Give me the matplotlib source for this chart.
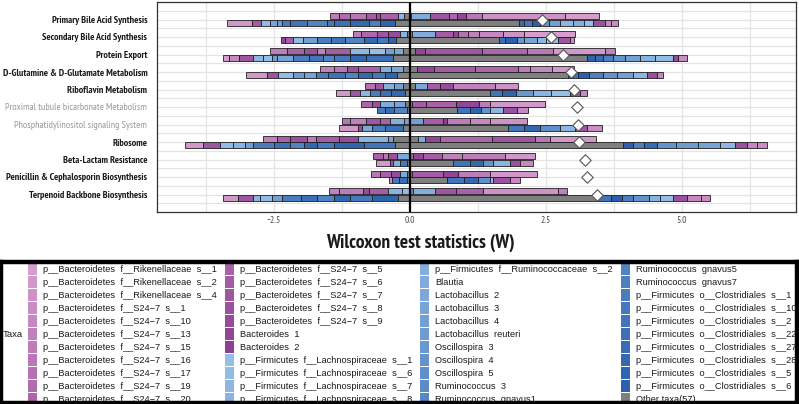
import numpy as np
import matplotlib
matplotlib.use('Agg')
import matplotlib.pyplot as plt
from matplotlib.patches import Rectangle
from matplotlib.colors import to_rgb
from matplotlib import font_manager as fm

plt.rcParams['font.family'] = ['Liberation Sans', 'DejaVu Sans']

_installed = set(f.name for f in fm.fontManager.ttflist)
NARROW = 'Liberation Sans'
for cand in ['Liberation Sans Narrow', 'Arial Narrow', 'PT Sans Narrow', 'Roboto Condensed',
             'Archivo Narrow', 'Barlow Semi Condensed']:
    if cand in _installed:
        NARROW = cand
        break

# ---------------- data ----------------
pathways = ['Primary Bile Acid Synthesis', 'Secondary Bile Acid Synthesis', 'Protein Export',
            'D-Glutamine & D-Glutamate Metabolism', 'Riboflavin Metabolism',
            'Proximal tubule bicarbonate Metabolism', 'Phosphatidylinositol signaling System',
            'Ribosome', 'Beta-Lactam Resistance', 'Penicillin & Cephalosporin Biosynthesis',
            'Terpenoid Backbone Biosynthesis']
pathway_muted = [False, False, False, False, False, True, True, False, False, False, False]
pathway_W = [2.43, 2.59, 2.81, 2.96, 3.01, 3.07, 3.09, 3.11, 3.22, 3.26, 3.44]

taxa_labels = [
    'p__Bacteroidetes  f__Rikenellaceae  s__1', 'p__Bacteroidetes  f__Rikenellaceae  s__2',
    'p__Bacteroidetes  f__Rikenellaceae  s__4', 'p__Bacteroidetes  f__S24\u22127  s__1',
    'p__Bacteroidetes  f__S24\u22127  s__10', 'p__Bacteroidetes  f__S24\u22127  s__13',
    'p__Bacteroidetes  f__S24\u22127  s__15', 'p__Bacteroidetes  f__S24\u22127  s__16',
    'p__Bacteroidetes  f__S24\u22127  s__17', 'p__Bacteroidetes  f__S24\u22127  s__19',
    'p__Bacteroidetes  f__S24\u22127  s__20',
    'p__Bacteroidetes  f__S24\u22127  s__5', 'p__Bacteroidetes  f__S24\u22127  s__6',
    'p__Bacteroidetes  f__S24\u22127  s__7', 'p__Bacteroidetes  f__S24\u22127  s__8',
    'p__Bacteroidetes  f__S24\u22127  s__9', 'Bacteroides  1', 'Bacteroides  2',
    'p__Firmicutes  f__Lachnospiraceae  s__1', 'p__Firmicutes  f__Lachnospiraceae  s__6',
    'p__Firmicutes  f__Lachnospiraceae  s__7', 'p__Firmicutes  f__Lachnospiraceae  s__8',
    'p__Firmicutes  f__Ruminococcaceae  s__2', 'Blautia', 'Lactobacillus  2', 'Lactobacillus  3',
    'Lactobacillus  4', 'Lactobacillus  reuteri', 'Oscillospira  3', 'Oscillospira  4',
    'Oscillospira  5', 'Ruminococcus  3', 'Ruminococcus  gnavus1',
    'Ruminococcus  gnavus5', 'Ruminococcus  gnavus7',
    'p__Firmicutes  o__Clostridiales  s__1', 'p__Firmicutes  o__Clostridiales  s__10',
    'p__Firmicutes  o__Clostridiales  s__2', 'p__Firmicutes  o__Clostridiales  s__22',
    'p__Firmicutes  o__Clostridiales  s__27', 'p__Firmicutes  o__Clostridiales  s__28',
    'p__Firmicutes  o__Clostridiales  s__5', 'p__Firmicutes  o__Clostridiales  s__6',
    'Other taxa(57)']

# segment boundaries (W units) and taxon index of each segment, upper bar per pathway
top_edges = [
    [-1.47, -1.30, -1.10, -0.80, -0.62, -0.55, -0.22, -0.10, 0.02, 0.37, 0.72, 0.86, 1.04, 1.32, 2.85, 3.48],
    [-1.05, -0.90, -0.60, -0.40, -0.18, -0.05, 0.04, 0.46, 0.80, 0.88, 1.06, 1.28, 1.71, 2.10, 3.03],
    [-2.57, -2.26, -1.95, -1.70, -1.56, -1.10, -0.75, -0.46, -0.30, -0.13, 0.09, 0.28, 1.32, 2.15, 2.63, 3.58, 3.77],
    [-1.65, -1.40, -1.15, -0.95, -0.55, -0.35, -0.13, 0.13, 0.45, 1.20, 1.98, 2.20, 2.61, 3.01],
    [-0.82, -0.65, -0.50, -0.30, -0.13, 0.09, 0.31, 0.55, 0.79, 1.56, 1.99],
    [-0.90, -0.70, -0.55, -0.30, -0.09, 0.04, 0.30, 0.85, 1.28, 1.47, 2.48],
    [-1.25, -1.10, -0.80, -0.55, -0.37, -0.10, 0.24, 0.60, 0.68, 1.10, 1.47, 2.15],
    [-2.70, -2.45, -2.20, -1.90, -1.72, -1.30, -0.96, -0.40, -0.31, 0.15, 0.28, 0.55, 1.51, 2.30, 2.57, 3.43],
    [-0.68, -0.50, -0.40, -0.24, 0.00, 0.06, 0.25, 0.59, 0.95, 1.75, 2.30],
    [-0.72, -0.55, -0.35, -0.18, -0.06, 0.04, 0.60, 0.88, 1.47, 2.34],
    [-1.49, -1.30, -0.86, -0.75, -0.40, -0.15, 0.00, 0.05, 0.46, 0.85, 1.34, 2.72, 2.89],
]
top_taxa = [
    [6, 9, 7, 12, 14, 11, 21, 43, 23, 13, 10, 16, 7, 2, 0],
    [6, 10, 13, 15, 21, 43, 23, 12, 16, 8, 5, 4, 2, 0],
    [6, 11, 14, 5, 12, 20, 18, 26, 24, 43, 16, 13, 10, 7, 1, 5],
    [5, 7, 14, 11, 22, 24, 43, 16, 12, 10, 6, 4, 1],
    [8, 13, 22, 26, 43, 24, 12, 15, 5, 2],
    [10, 14, 23, 25, 43, 12, 11, 16, 6, 1],
    [7, 5, 13, 11, 22, 26, 12, 17, 6, 4, 2],
    [5, 11, 14, 6, 12, 15, 21, 25, 43, 23, 16, 10, 13, 7, 1],
    [11, 7, 14, 24, 43, 16, 12, 5, 6, 1],
    [7, 11, 15, 24, 43, 12, 16, 6, 1],
    [5, 6, 15, 12, 21, 19, 43, 22, 13, 11, 2, 5],
]
# lower bar per pathway
bottom_edges = [
    [-3.36, -2.90, -2.74, -2.57, -2.45, -2.35, -2.20, -1.90, -1.53, -1.40, -1.10, -0.75, -0.55, -0.28, 2.00, 2.10, 2.25, 2.39, 2.55, 2.76, 3.00, 3.20, 3.36, 3.58, 3.70, 3.82],
    [-2.37, -2.30, -2.15, -1.96, -1.70, -1.45, -1.20, -0.85, -0.60, -0.40, -0.25, 1.64, 1.75, 1.97, 2.10, 2.33, 2.50, 2.72, 2.94, 3.01],
    [-3.43, -3.33, -3.14, -2.88, -2.70, -2.53, -2.45, -2.15, -1.85, -1.60, -1.40, -1.10, -0.80, -0.31, 3.25, 3.40, 3.55, 3.73, 3.95, 4.23, 4.50, 4.83, 4.93, 5.09],
    [-3.02, -2.63, -2.43, -2.15, -1.95, -1.72, -1.50, -1.20, -0.95, -0.70, -0.45, -0.24, 2.90, 3.10, 3.30, 3.55, 3.80, 4.10, 4.36, 4.54, 4.65],
    [-1.36, -1.10, -0.92, -0.74, -0.55, -0.35, -0.09, 1.47, 1.70, 1.95, 2.26, 2.60, 2.94, 3.13, 3.25],
    [-0.61, -0.45, -0.30, -0.06, 0.86, 1.10, 1.30, 1.47, 1.71, 1.97, 2.17],
    [-1.30, -0.96, -0.88, -0.70, -0.45, -0.13, 1.80, 2.10, 2.40, 2.76, 3.03, 3.25, 3.53],
    [-4.13, -3.81, -3.49, -3.25, -3.03, -2.89, -2.50, -2.20, -1.95, -1.70, -1.40, -0.85, -0.28, 3.92, 4.10, 4.30, 4.54, 4.90, 5.30, 5.70, 5.97, 6.19, 6.38, 6.56],
    [-0.63, -0.37, -0.31, -0.18, -0.06, 0.79, 1.10, 1.35, 1.53, 1.84, 2.02, 2.26],
    [-0.39, -0.33, -0.20, -0.06, 0.68, 1.00, 1.25, 1.47, 1.53, 1.84, 2.02],
    [-3.43, -3.16, -2.89, -2.75, -2.53, -2.35, -2.00, -1.70, -1.40, -1.10, -0.70, -0.22, 3.44, 3.70, 3.90, 4.10, 4.40, 4.60, 4.83, 5.09, 5.35, 5.51],
]
bottom_taxa = [
    [1, 12, 19, 25, 27, 35, 37, 33, 36, 38, 40, 34, 41, 43, 39, 36, 42, 29, 26, 20, 22, 18, 14, 4, 3],
    [16, 12, 19, 26, 35, 37, 33, 40, 36, 41, 43, 38, 42, 28, 25, 20, 18, 13, 3],
    [0, 4, 13, 20, 18, 27, 25, 35, 37, 33, 36, 40, 38, 43, 41, 39, 34, 29, 26, 21, 19, 15, 3],
    [1, 13, 19, 27, 25, 35, 38, 33, 40, 36, 41, 43, 37, 42, 34, 29, 26, 20, 14, 4],
    [1, 13, 20, 35, 38, 40, 43, 37, 41, 28, 21, 18, 14, 4],
    [36, 39, 33, 43, 37, 41, 29, 20, 14, 4],
    [1, 15, 24, 35, 38, 43, 36, 40, 30, 20, 13, 3],
    [1, 13, 19, 21, 26, 35, 38, 33, 40, 36, 41, 37, 43, 42, 34, 39, 29, 27, 25, 20, 14, 4, 3],
    [1, 13, 22, 36, 43, 37, 40, 29, 21, 14, 4],
    [3, 36, 39, 43, 37, 40, 30, 20, 14, 4],
    [1, 13, 20, 19, 26, 35, 38, 33, 40, 36, 41, 43, 37, 42, 34, 29, 21, 18, 14, 4, 3],
]

# ---------------- colours ----------------
def ramp(c0, c1, n):
    a, b = np.array(to_rgb(c0)), np.array(to_rgb(c1))
    return [tuple(a + (b - a) * t) for t in np.linspace(0, 1, n)]

taxa_colors = ramp('#D59ECD', '#8F4094', 18) + ramp('#96BFE7', '#2A60AD', 25) + [to_rgb('#7F7F7F')]

# ---------------- figure ----------------
fig = plt.figure(figsize=(7.99, 4.04), dpi=100)
W, H = 799, 404
ax = fig.add_axes([157 / W, 1 - 212 / H, (796 - 157) / W, 210 / H])

positions = np.arange(1, len(pathways) + 1)
bar_h = 0.32
for i, y in enumerate(positions):
    for edges, taxa, dy in ((top_edges[i], top_taxa[i], -0.185),
                            (bottom_edges[i], bottom_taxa[i], 0.185)):
        e = np.asarray(edges)
        ax.barh(np.full(len(taxa), y + dy), np.diff(e), left=e[:-1], height=bar_h,
                color=[taxa_colors[t] for t in taxa], edgecolor='#1e1e1e',
                linewidth=0.6, zorder=3)

ax.axvline(0, color='black', lw=1.6, zorder=4)
ax.scatter(pathway_W, positions, marker='D', s=34, facecolor='white',
           edgecolor='#555555', linewidth=0.8, zorder=6)

ax.set_xlim(-4.65, 7.10)
ax.set_ylim(12, 0)
ax.set_xticks([-2.5, 0, 2.5, 5.0])
ax.set_xticks([-3.75, -1.25, 1.25, 3.75, 6.25], minor=True)
ax.set_xticklabels(['\u22122.5', '0.0', '2.5', '5.0'], fontsize=6.8, color='#4D4D4D',
                   family=NARROW)
ax.set_yticks(positions)
ax.set_yticks(np.arange(0.5, 12, 1.0), minor=True)
ax.set_yticklabels(pathways, fontsize=7.2, family=NARROW)
for lab, muted in zip(ax.get_yticklabels(), pathway_muted):
    if muted:
        lab.set_color('#9A9A9A')
        lab.set_fontweight('normal')
    else:
        lab.set_color('#1A1A1A')
        lab.set_fontweight('bold')
ax.tick_params(which='both', length=0)
ax.tick_params(axis='y', pad=7)
ax.tick_params(axis='x', pad=3)
ax.grid(which='both', color='#E4E4E4', lw=0.9, zorder=0)
ax.set_axisbelow(True)
for s in ax.spines.values():
    s.set_color('#333333')
    s.set_linewidth(0.9)

fig.text(420 / W, 1 - 243 / H, 'Wilcoxon test statistics (W)', ha='center', va='center',
         fontsize=14, fontweight='bold', family=NARROW, color='#1A1A1A')

# ---------------- legend ----------------
lax = fig.add_axes([1 / W, 1 - 403 / H, 796 / W, 141 / H])
lax.set_xlim(1, 797)
lax.set_ylim(403, 262)
lax.set_xticks([])
lax.set_yticks([])
for s in lax.spines.values():
    s.set_color('black')
    s.set_linewidth(3.2)

col_x = [28, 225, 420, 621]
for k, lab in enumerate(taxa_labels):
    col, row = divmod(k, 11)
    yc = 269.3 + 13.0 * row
    lax.add_patch(Rectangle((col_x[col], yc - 6), 9, 12, facecolor=taxa_colors[k],
                            edgecolor='none', clip_on=True))
    lax.text(col_x[col] + 15, yc, lab, va='center', ha='left', fontsize=6.7,
             color='#1A1A1A', clip_on=True)
lax.text(3, 334, 'Taxa', va='center', ha='left', fontsize=6.8, color='#1A1A1A')

fig.savefig('out.png', dpi=100)
